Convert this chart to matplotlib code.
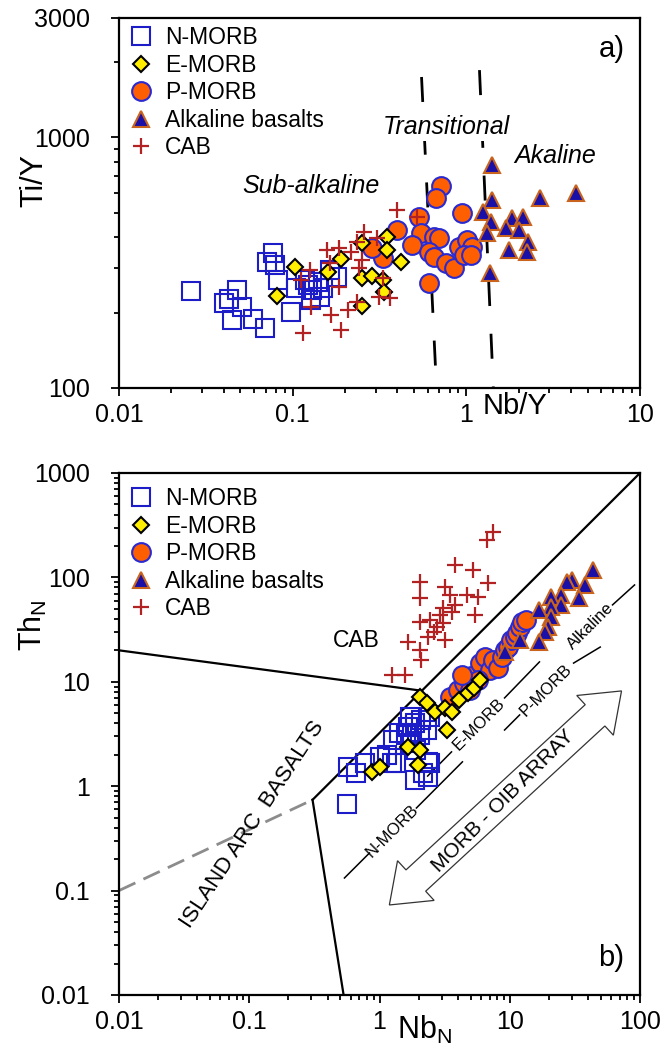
import matplotlib
matplotlib.use("Agg")
import matplotlib.pyplot as plt
import numpy as np
from matplotlib.patches import Polygon
from matplotlib.lines import Line2D
from matplotlib.transforms import IdentityTransform

plt.rcParams['font.family'] = ['Liberation Sans', 'DejaVu Sans']
plt.rcParams['mathtext.fontset'] = 'custom'
plt.rcParams['mathtext.rm'] = 'Liberation Sans'
plt.rcParams['mathtext.it'] = 'Liberation Sans:italic'

# ---------------- panel a) Nb/Y vs Ti/Y ----------------
nmorb_a_nby = [0.026, 0.048, 0.043, 0.040, 0.051, 0.045, 0.059, 0.069, 0.077, 0.071, 0.079, 0.082,
               0.098, 0.105, 0.122, 0.130, 0.128, 0.143, 0.149, 0.163, 0.181, 0.117, 0.139]
nmorb_a_tiy = [244, 246, 226, 218, 210, 187, 188, 173, 346, 318, 310, 270,
               201, 251, 258, 246, 224, 231, 251, 296, 277, 270, 265]

emorb_a_nby = [0.103, 0.081, 0.191, 0.252, 0.347, 0.351, 0.423, 0.252, 0.288, 0.329, 0.337, 0.252, 0.159]
emorb_a_tiy = [304, 233, 327, 379, 401, 356, 318, 275, 280, 270, 242, 212, 290]

pmorb_a_nby = [0.719, 0.673, 0.938, 0.537, 0.401, 0.551, 0.489, 0.654, 0.700, 0.613, 0.655,
               0.768, 0.853, 0.912, 1.01, 1.08, 0.975, 1.07, 0.613, 0.329, 0.288]
pmorb_a_tiy = [640, 573, 500, 482, 428, 416, 373, 401, 397, 349, 334,
               316, 302, 366, 390, 366, 340, 340, 262, 330, 362]

alk_a_nby = [1.41, 1.41, 1.24, 1.39, 1.31, 1.82, 1.70, 2.11, 2.02, 2.25, 2.22, 1.77, 2.64, 4.30, 1.36]
alk_a_tiy = [777, 562, 504, 460, 416, 478, 436, 482, 428, 383, 349, 356, 573, 600, 288]

cab_a_nby = [0.401, 0.523, 0.259, 0.307, 0.236, 0.218, 0.186, 0.157, 0.163, 0.125, 0.112, 0.242,
             0.252, 0.186, 0.329, 0.316, 0.361, 0.236, 0.207, 0.128, 0.167, 0.191, 0.114]
cab_a_tiy = [513, 482, 420, 397, 383, 349, 362, 356, 316, 296, 270, 302,
             324, 253, 275, 231, 229, 220, 205, 210, 195, 170, 166]

# field boundaries (dashed)
subalk_trans_nby = [0.552, 0.673]
subalk_trans_tiy = [1743, 100]
trans_alk_nby = [1.19, 1.43]
trans_alk_tiy = [1857, 100]

# ---------------- panel b) NbN vs ThN ----------------
nmorb_b_nb = [0.558, 0.568, 0.665, 0.767, 1.0, 1.15, 1.24, 1.35, 1.26, 1.42, 1.64, 1.86, 1.70,
              2.10, 2.30, 2.42, 1.79, 1.70, 1.92, 2.42, 2.34, 2.14, 1.86, 2.34, 1.61, 2.03]
nmorb_b_th = [0.676, 1.53, 1.34, 1.67, 1.90, 1.99, 1.67, 1.67, 2.77, 3.23, 3.69, 4.03, 4.60,
              4.31, 3.45, 4.60, 3.23, 2.59, 2.22, 1.67, 1.71, 1.34, 1.15, 1.23, 3.09, 3.09]

emorb_b_nb = [2.03, 2.30, 0.883, 1.0, 1.64, 2.03, 1.96, 2.69, 3.16, 3.57, 4.11, 4.74, 5.27, 5.86, 3.32]
emorb_b_th = [7.15, 6.26, 1.37, 1.53, 2.37, 2.22, 1.60, 5.14, 5.61, 5.14, 6.70, 7.82, 8.73, 10.4, 3.45]

pmorb_b_nb = [3.45, 3.97, 4.49, 5.08, 5.86, 6.40, 7.00, 7.38, 8.06, 8.65, 9.12, 9.62, 10.3,
              10.9, 11.3, 11.9, 12.5, 13.4, 4.91, 5.66, 4.26]
pmorb_b_th = [7.15, 8.34, 9.75, 11.4, 15.1, 17.3, 13.0, 16.2, 13.6, 17.3, 20.2, 21.5, 25.1,
              26.9, 29.3, 33.5, 37.4, 39.1, 8.34, 10.4, 11.6]

alk_b_nb = [43.2, 30.3, 27.7, 37.5, 24.9, 20.9, 34.3, 24.9, 20.9, 16.9, 20.9, 19.5, 18.5, 16.9, 11.9, 9.12]
alk_b_th = [118, 94.4, 90.4, 84.6, 67.8, 64.9, 63.5, 54.5, 52.1, 48.7, 41.8, 33.5, 30.0, 24.0, 25.1, 19.3]

cab_b_nb = [7.38, 6.64, 3.77, 5.18, 6.75, 2.03, 2.03, 3.16, 3.45, 4.66, 5.66, 3.77, 3.05, 5.37,
            2.89, 2.42, 2.03, 3.05, 2.64, 3.16, 2.34, 1.64, 2.03, 2.10, 1.24, 1.56, 3.57, 2.74]
cab_b_th = [272, 228, 131, 118, 88, 90, 63.5, 81, 68, 68, 65, 54.5, 51, 43.7,
            43.7, 39.1, 37.4, 36.6, 30, 25.1, 26.9, 24, 20.2, 16.2, 11.6, 11.6, 46.7, 33.5]

# diagram boundaries
cab_line_nb = [0.01, 2.12]
cab_line_th = [20, 8.2]
array_top_nb = [0.306, 100]
array_top_th = [0.74, 1000]
iab_line_nb = [0.306, 0.53]
iab_line_th = [0.74, 0.01]
iab_dash_nb = [0.01, 0.306]
iab_dash_th = [0.1, 0.74]

labels = ['N-MORB', 'E-MORB', 'P-MORB', 'Alkaline basalts', 'CAB']
styles = {
    'N-MORB': dict(marker='s', ms=12.5, mfc='none', mec='#1c1cc8', mew=1.5),
    'E-MORB': dict(marker='D', ms=8, mfc='#ffee00', mec='black', mew=1.5),
    'P-MORB': dict(marker='o', ms=13.5, mfc='#ff5f00', mec='#2a2ad0', mew=1.5),
    'Alkaline basalts': dict(marker='^', ms=11, mfc='#1a10a8', mec='#c8641e', mew=1.5),
    'CAB': dict(marker='+', ms=11, mfc='none', mec='#b22222', mew=1.6),
}
draw_order = ['N-MORB', 'P-MORB', 'E-MORB', 'Alkaline basalts', 'CAB']

fig = plt.figure(figsize=(6.66, 10.48), dpi=100)
ax1 = fig.add_axes([0.1787, 0.6298, 0.7823, 0.3531])
ax2 = fig.add_axes([0.1787, 0.0506, 0.7823, 0.4981])


def style_axes(ax, xt, xl, yt, yl):
    ax.set_xscale('log')
    ax.set_yscale('log')
    ax.set_xticks(xt)
    ax.set_xticklabels(xl)
    ax.set_yticks(yt)
    ax.set_yticklabels(yl)
    ax.tick_params(which='both', direction='out', top=False, right=False, width=1.3,
                   labelsize=18)
    ax.tick_params(axis='x', pad=5)
    ax.tick_params(axis='y', pad=15)
    ax.tick_params(which='major', length=6)
    ax.tick_params(which='minor', length=3.5)
    for s in ax.spines.values():
        s.set_linewidth(1.6)


# ---- panel a ----
data_a = {
    'N-MORB': (nmorb_a_nby, nmorb_a_tiy),
    'E-MORB': (emorb_a_nby, emorb_a_tiy),
    'P-MORB': (pmorb_a_nby, pmorb_a_tiy),
    'Alkaline basalts': (alk_a_nby, alk_a_tiy),
    'CAB': (cab_a_nby, cab_a_tiy),
}
ax1.plot(subalk_trans_nby, subalk_trans_tiy, color='black', lw=2, dashes=(9, 10), zorder=1)
ax1.plot(trans_alk_nby, trans_alk_tiy, color='black', lw=2, dashes=(9, 10), zorder=1)
for k in draw_order:
    x, y = data_a[k]
    ax1.plot(x, y, ls='none', zorder=3, **styles[k])

ax1.set_xlim(0.01, 10)
ax1.set_ylim(100, 3000)
style_axes(ax1, [0.01, 0.1, 1, 10], ['0.01', '0.1', '1', '10'],
           [100, 1000, 3000], ['100', '1000', '3000'])
ax1.set_ylabel('Ti/Y', fontsize=22)
ax1.yaxis.set_label_coords(-0.134, 0.56)
ax1.text(0.76, -0.05, 'Nb/Y', transform=ax1.transAxes, fontsize=21, ha='center', va='center')
ax1.text(0.628, 0.705, 'Transitional', transform=ax1.transAxes, fontsize=18, style='italic',
         ha='center', va='center', bbox=dict(fc='white', ec='none', pad=1), zorder=2)
ax1.text(0.837, 0.628, 'Akaline', transform=ax1.transAxes, fontsize=18, style='italic',
         ha='center', va='center')
ax1.text(0.369, 0.545, 'Sub-alkaline', transform=ax1.transAxes, fontsize=18, style='italic',
         ha='center', va='center')
ax1.text(0.945, 0.915, 'a)', transform=ax1.transAxes, fontsize=21, ha='center', va='center')

handles = [Line2D([], [], ls='none', **styles[k]) for k in labels]
leg_kw = dict(loc='upper left', frameon=False, fontsize=16.5,
              handlelength=1.2, handletextpad=0.45, labelspacing=0.2, borderpad=0.35,
              borderaxespad=0.0)
ax1.legend(handles, labels, bbox_to_anchor=(0.0, 1.0), **leg_kw)

# ---- panel b ----
data_b = {
    'N-MORB': (nmorb_b_nb, nmorb_b_th),
    'E-MORB': (emorb_b_nb, emorb_b_th),
    'P-MORB': (pmorb_b_nb, pmorb_b_th),
    'Alkaline basalts': (alk_b_nb, alk_b_th),
    'CAB': (cab_b_nb, cab_b_th),
}
ax2.set_xlim(0.01, 100)
ax2.set_ylim(0.01, 1000)
style_axes(ax2, [0.01, 0.1, 1, 10, 100], ['0.01', '0.1', '1', '10', '100'],
           [0.01, 0.1, 1, 10, 100, 1000], ['0.01', '0.1', '1', '10', '100', '1000'])

ax2.plot(cab_line_nb, cab_line_th, color='black', lw=1.6, zorder=1)
ax2.plot(array_top_nb, array_top_th, color='black', lw=1.6, zorder=1)
ax2.plot(iab_line_nb, iab_line_th, color='black', lw=1.6, zorder=1)
ax2.plot(iab_dash_nb, iab_dash_th, color='#8c8c8c', lw=2, dashes=(6.5, 3.2), zorder=1)

# subdivision lines of the MORB-OIB array with inline labels
seg_kw = dict(color='black', lw=1.1, zorder=1)
ax2.plot([0.538, 0.837], [0.132, 0.229], **seg_kw)
ax2.plot([1.92, 4.33], [0.618, 1.71], **seg_kw)
ax2.plot([2.34, 3.57], [1.25, 2.13], **seg_kw)
ax2.plot([9.12, 16.9], [7.0, 15.5], **seg_kw)
ax2.plot([9.12, 11.9], [3.45, 4.81], **seg_kw)
ax2.plot([30.9, 49.5], [15.1, 21.5], **seg_kw)
ax2.plot([61.5, 90.8], [54.5, 84.6], **seg_kw)
lab_kw = dict(fontsize=12, rotation=45, rotation_mode='anchor', ha='center', va='center')
ax2.text(1.26, 0.372, 'N-MORB', **lab_kw)
ax2.text(5.75, 3.94, 'E-MORB', **lab_kw)
ax2.text(19.1, 8.34, 'P-MORB', **lab_kw)
ax2.text(41.7, 34.2, 'Alkaline', **lab_kw)

ax2.text(0.665, 25, 'CAB', fontsize=16.5, ha='center', va='center')
ax2.text(0.106, 0.425, 'ISLAND ARC  BASALTS', fontsize=16, rotation=56.5,
         rotation_mode='anchor', ha='center', va='center')
ax2.text(8.96, 0.721, 'MORB - OIB ARRAY', fontsize=15, rotation=45,
         rotation_mode='anchor', ha='center', va='center')

# double-headed open arrow along the array
arrow_nb = [1.19, 72.1]
arrow_th = [0.0728, 8.17]
p0 = ax2.transData.transform((arrow_nb[0], arrow_th[0]))
p1 = ax2.transData.transform((arrow_nb[1], arrow_th[1]))
d = (p1 - p0) / np.linalg.norm(p1 - p0)
n = np.array([-d[1], d[0]])
sh, hh, hl = 14.5, 27.0, 36.0
verts = [p0, p0 + d * hl + n * hh, p0 + d * hl + n * sh, p1 - d * hl + n * sh,
         p1 - d * hl + n * hh, p1, p1 - d * hl - n * hh, p1 - d * hl - n * sh,
         p0 + d * hl - n * sh, p0 + d * hl - n * hh]
ax2.add_patch(Polygon(verts, closed=True, fc='white', ec='#333333', lw=0.9,
                      transform=IdentityTransform(), zorder=1))

for k in draw_order:
    x, y = data_b[k]
    ax2.plot(x, y, ls='none', zorder=3, **styles[k])

ax2.set_ylabel(r'Th$_\mathregular{N}$', fontsize=22)
ax2.yaxis.set_label_coords(-0.134, 0.709)
ax2.text(0.587, -0.067, r'Nb$_\mathregular{N}$', transform=ax2.transAxes, fontsize=22,
         ha='center', va='center')
ax2.text(0.945, 0.07, 'b)', transform=ax2.transAxes, fontsize=21, ha='center', va='center')
ax2.legend(handles, labels, bbox_to_anchor=(0.0, 0.9885), **leg_kw)

fig.savefig('out.png', dpi=100)
